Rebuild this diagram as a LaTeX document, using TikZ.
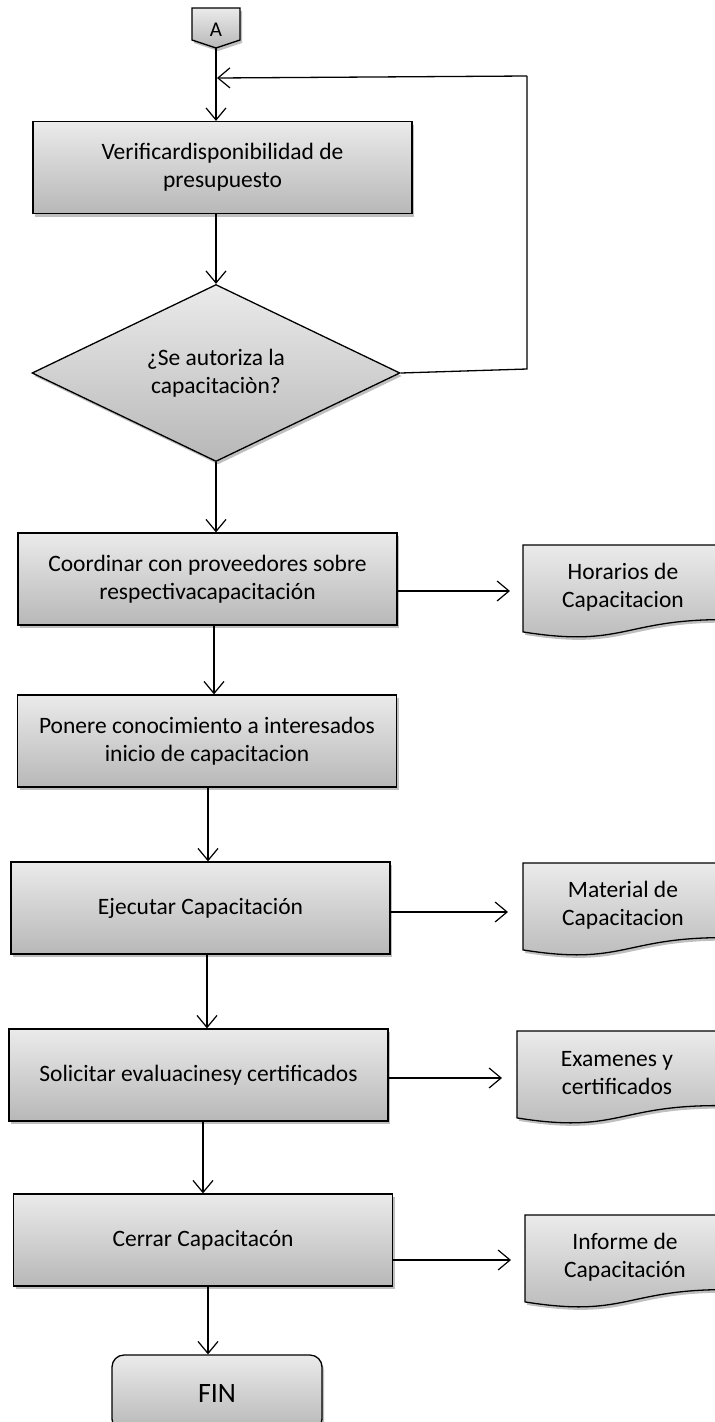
\documentclass[tikz,border=0pt]{standalone}
\usepackage{fontspec}
\setmainfont{Carlito}
\usetikzlibrary{arrows.meta,shapes.geometric,shadows}
\tikzset{
  x=1pt, y=-1pt,
  sh/.style={drop shadow={shadow xshift=2pt, shadow yshift=-3pt, opacity=0.25, fill=black}},
  grad/.style={top color=black!8, bottom color=black!28},
  txt/.style={font=\fontsize{23.5}{28}\selectfont, align=center, text=black},
  box/.style={rectangle, draw=black, line width=1.3pt, minimum width=379pt, minimum height=92pt, grad, sh, txt},
  arr/.style={-{Straight Barb[length=12pt,width=20pt,line width=1.2pt]}, line width=1.3pt},
  docsty/.style={draw=black, line width=1.3pt, grad, sh},
  ln/.style={line width=1.3pt}
}
\newcommand\mydoc[2]{\path[docsty] (#1,#2) -- (#1+200,#2) -- (#1+200,#2+74.6) .. controls (#1+100,#2+74.6) and (#1+100,#2+103) .. (#1,#2+86.9) -- cycle;}
\begin{document}
\begin{tikzpicture}
\useasboundingbox (0,0) rectangle (715,1422);

% off-page connector A
\path[docsty] (192,8) -- (240,8) -- (240,40) -- (216,48) -- (192,40) -- cycle;
\node[font=\fontsize{21}{24}\selectfont] (A) at (216,30) {A};
\coordinate (Abot) at (216,48);

% boxes
\node[box] (b1) at (222.5,167.5) {Verificardisponibilidad de\\presupuesto};
\node[diamond, draw=black, line width=1.3pt, minimum width=368pt, minimum height=177pt, aspect=2.08, inner sep=0pt, grad, sh, txt] (q) at (216,373) {¿Se autoriza la\\capacitaciòn?};
\node[box] (b2) at (207.5,579) {Coordinar con proveedores sobre\\respectivacapacitación};
\node[box] (b3) at (207,741) {Ponere conocimiento a interesados\\inicio de capacitacion};
\node[box] (b4) at (200.5,908) {Ejecutar Capacitación};
\node[box] (b5) at (198.5,1075) {Solicitar evaluacinesy certificados};
\node[box] (b6) at (203,1240) {Cerrar Capacitacón};
\node[rectangle, rounded corners=12pt, draw=black, line width=1.3pt, minimum width=210pt, minimum height=76pt, grad, sh, font=\fontsize{28}{32}\selectfont] (fin) at (217,1393) {FIN};

% documents
\mydoc{523}{545}
\node[txt] (d1) at (623,587) {Horarios de\\Capacitacion};
\mydoc{523}{863}
\node[txt] (d2) at (623,905) {Material de\\Capacitacion};
\mydoc{517}{1031}
\node[txt] (d3) at (617,1073) {Examenes y\\certificados};
\mydoc{525}{1215}
\node[txt] (d4) at (625,1257) {Informe de\\Capacitación};

% vertical flow
\draw[arr] (Abot) -- (Abot |- b1.north);
\draw[arr] (q.north |- b1.south) -- (q.north);
\draw[arr] (q.south) -- (q.south |- b2.north);
\draw[arr] ([xshift=6.5pt]b2.south) -- ([xshift=6.5pt]b2.south |- b3.north);
\draw[arr] ([xshift=1pt]b3.south) -- ([xshift=1pt]b3.south |- b4.north);
\draw[arr] ([xshift=6.5pt]b4.south) -- ([xshift=6.5pt]b4.south |- b5.north);
\draw[arr] ([xshift=4.5pt]b5.south) -- ([xshift=4.5pt]b5.south |- b6.north);
\draw[arr] ([xshift=5pt]b6.south) -- ([xshift=5pt]b6.south |- fin.north);

% loop back
\coordinate (L1) at (527,369);
\coordinate (L2) at (527,76);
\coordinate (Lj) at (217,78);
\draw[ln] (q.east) -- (L1) -- (L2);
\draw[arr] (L2) -- (Lj);

% side arrows to documents
\coordinate (t1) at (510,591);
\coordinate (t2) at (508,912);
\coordinate (t3) at (502,1078);
\coordinate (t4) at (511,1260);
\draw[arr] (b2.east |- t1) -- (t1);
\draw[arr] (b4.east |- t2) -- (t2);
\draw[arr] (b5.east |- t3) -- (t3);
\draw[arr] (b6.east |- t4) -- (t4);
\end{tikzpicture}
\end{document}
